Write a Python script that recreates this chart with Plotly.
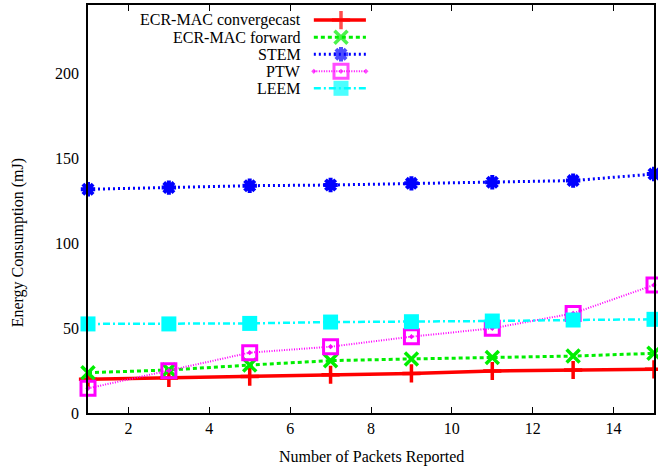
import plotly.graph_objects as go

# ---- data ----
packets = [1, 3, 5, 7, 9, 11, 13, 15]
ecr_convergecast = [19.8, 20.6, 21.4, 22.5, 23.3, 24.7, 25.3, 25.7]
ecr_forward = [23.7, 25.3, 28.2, 30.8, 31.8, 32.7, 33.5, 35.1]
stem = [131.6, 132.6, 133.7, 134.1, 135.1, 135.7, 136.7, 140.6]
ptw = [14.5, 24.9, 35.5, 39.0, 44.9, 49.8, 58.6, 75.3]
leem = [52.4, 52.4, 52.7, 53.5, 53.7, 54.1, 54.7, 55.1]
series_names = ["ECR-MAC convergecast", "ECR-MAC forward", "STEM", "PTW", "LEEM"]
x_ticks = [2, 4, 6, 8, 10, 12, 14]
y_ticks = [0, 50, 100, 150, 200]

# ---- styles ----
styles = [
    dict(color="#ff0000", width=3.5, dash="solid", symbol="cross-thin-open", size=13, mlw=3.5),
    dict(color="#00ee00", width=3, dash="4px,3px", symbol="x-thin-open", size=13, mlw=3.5),
    dict(color="#0000ff", width=3, dash="2px,3px", symbol="asterisk-open", size=12, mlw=4),
    dict(color="#ff00ff", width=2, dash="1px,1.5px", symbol="square-open-dot", size=14, mlw=3),
    dict(color="#00ffff", width=2.5, dash="7px,3px,2px,3px", symbol="square", size=15, mlw=0),
]
values = [ecr_convergecast, ecr_forward, stem, ptw, leem]
FONT = "Liberation Serif"
Y_RANGE = [0, 240]

fig = go.Figure()
for name, vals, st in zip(series_names, values, styles):
    fig.add_trace(go.Scatter(
        x=packets, y=vals, name=name, mode="lines+markers",
        line=dict(color=st["color"], width=st["width"], dash=st["dash"]),
        marker=dict(symbol=st["symbol"], size=st["size"], color=st["color"],
                    line=dict(color=st["color"], width=st["mlw"])),
        showlegend=False, cliponaxis=False,
    ))

# ---- gnuplot-style key (text right-aligned, sample on the right) ----
KEY_TEXT_X = 0.378
KEY_X0, KEY_XM, KEY_X1 = 0.399, 0.447, 0.491
KEY_Y_TOP, KEY_DY = 0.963, 0.0418
for i, (name, st) in enumerate(zip(series_names, styles)):
    ky = KEY_Y_TOP - i * KEY_DY
    fig.add_trace(go.Scatter(
        x=[KEY_X0, KEY_XM, KEY_X1], y=[ky, ky, ky], xaxis="x2", yaxis="y2",
        mode="lines+markers", showlegend=False, hoverinfo="skip",
        line=dict(color=st["color"], width=st["width"], dash=st["dash"]),
        marker=dict(symbol=st["symbol"], size=[0, st["size"], 0], color=st["color"],
                    line=dict(color=st["color"], width=st["mlw"])),
        cliponaxis=False,
    ))
    fig.add_annotation(x=KEY_TEXT_X, y=ky, xref="paper", yref="paper", text=name,
                       showarrow=False, xanchor="right", yanchor="middle",
                       borderpad=0,
                       font=dict(family=FONT, size=16, color="black"))

axis_common = dict(showgrid=False, zeroline=False, ticks="inside", ticklen=6,
                   tickwidth=1, tickcolor="black", showline=True, linecolor="black",
                   linewidth=1.5, mirror="ticks",
                   tickfont=dict(family=FONT, size=16, color="black"))

fig.update_layout(
    width=658, height=470,
    margin=dict(l=88, r=2, t=5, b=57),
    paper_bgcolor="white", plot_bgcolor="white",
    font=dict(family=FONT),
    xaxis=dict(range=[1, 15], tickvals=x_ticks, ticklabelstandoff=0, **axis_common),
    # labels-only y axis (no tick marks so labels sit close to the axis line)
    yaxis=dict(range=Y_RANGE, tickvals=y_ticks, ticks="", showgrid=False, zeroline=False,
               showline=True, linecolor="black", linewidth=1.5, mirror=True,
               ticklabelstandoff=4,
               tickfont=dict(family=FONT, size=16, color="black")),
    # tick-marks-only overlay y axis (inside ticks on both sides)
    yaxis3=dict(range=Y_RANGE, tickvals=y_ticks, overlaying="y", anchor="x", side="left",
                showticklabels=False, showgrid=False, zeroline=False, ticks="inside",
                ticklen=6, tickwidth=1, tickcolor="black", showline=True,
                linecolor="black", linewidth=1.5, mirror="ticks"),
    xaxis2=dict(range=[0, 1], overlaying="x", anchor="y2", visible=False),
    yaxis2=dict(range=[0, 1], overlaying="y", anchor="x2", visible=False),
    showlegend=False,
)
fig.add_annotation(x=0.5, y=-0.107, xref="paper", yref="paper", text="Number of Packets Reported",
                   showarrow=False, xanchor="center", yanchor="middle",
                   font=dict(family=FONT, size=16, color="black"))
fig.add_annotation(x=-0.123, y=0.4167, xref="paper", yref="paper", text="Energy Consumption (mJ)",
                   showarrow=False, textangle=-90, xanchor="center", yanchor="middle",
                   font=dict(family=FONT, size=16, color="black"))

fig.write_html("out.html")
